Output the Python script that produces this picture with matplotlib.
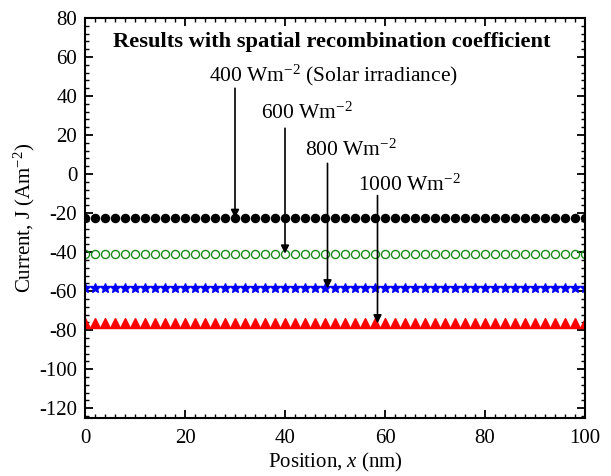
import matplotlib
matplotlib.use("Agg")
import matplotlib.pyplot as plt
from matplotlib.ticker import MultipleLocator

plt.rcParams['font.family'] = ['Liberation Serif', 'DejaVu Serif']
plt.rcParams['mathtext.fontset'] = 'custom'
plt.rcParams['mathtext.rm'] = 'Liberation Serif'
plt.rcParams['mathtext.it'] = 'Liberation Serif:italic'
plt.rcParams['mathtext.bf'] = 'Liberation Serif:bold'
plt.rcParams['axes.unicode_minus'] = False

# Data
position = [0, 2, 4, 6, 8, 10, 12, 14, 16, 18, 20, 22, 24, 26, 28, 30, 32, 34, 36, 38,
            40, 42, 44, 46, 48, 50, 52, 54, 56, 58, 60, 62, 64, 66, 68, 70, 72, 74, 76, 78,
            80, 82, 84, 86, 88, 90, 92, 94, 96, 98, 100]
n = len(position)
J_400 = [-22.5] * n
J_600 = [-40.8] * n
J_800 = [-58.6] * n
J_1000 = [-76.5] * n
labels = ['400 Wm$^{-2}$ (Solar irradiance)', '600 Wm$^{-2}$', '800 Wm$^{-2}$', '1000 Wm$^{-2}$']
arrow_x = [30, 40, 48.5, 58.5]
arrow_from = [44, 23.5, 5.5, -11]
text_xy = [(24.8, 50.8), (35.2, 31.3), (44.0, 12.3), (54.6, -5.6)]

fig = plt.figure(figsize=(6.11, 4.76), dpi=100)
ax = fig.add_axes([85/611, 58/476, 500/611, 400/476])

ax.plot(position, J_400, linestyle='none', marker='o', color='black', markersize=5.8)
ax.plot(position, J_600, linestyle='none', marker='o', markerfacecolor='none',
        markeredgecolor='#1a8c1a', markeredgewidth=1.0, markersize=5.8)
ax.plot(position, J_800, linestyle='none', marker='*', color='blue', markersize=7.5)
ax.plot(position, J_1000, linestyle='none', marker='^', color='red', markersize=6.5)

series_y = [J_400[0], J_600[0], J_800[0], J_1000[0]]
for lab, ax_x, y0, y1, (tx, ty) in zip(labels, arrow_x, arrow_from, series_y, text_xy):
    ax.text(tx, ty, lab, fontsize=15.5, ha='left', va='center')
    ax.annotate('', xy=(ax_x, y1), xytext=(ax_x, y0),
                arrowprops=dict(arrowstyle='-|>', color='black', lw=1.2,
                                mutation_scale=12, shrinkA=0, shrinkB=0))

ax.text(49.4, 67.7, 'Results with spatial recombination coefficient',
        fontsize=16.2, fontweight='bold', ha='center', va='center')

ax.set_xlim(0, 100)
ax.set_ylim(-125, 80)
ax.xaxis.set_major_locator(MultipleLocator(20))
ax.xaxis.set_minor_locator(MultipleLocator(2))
ax.yaxis.set_minor_locator(MultipleLocator(4))
ax.set_yticks([80, 60, 40, 20, 0, -20, -40, -60, -80, -100, -120])

ax.tick_params(which='both', direction='in', top=True, right=True, labelsize=15)
ax.tick_params(axis='x', which='major', pad=8)
ax.tick_params(axis='y', which='major', pad=5.5)
ax.tick_params(which='major', length=6, width=1.3)
ax.tick_params(which='minor', length=3, width=1.0)
for s in ax.spines.values():
    s.set_linewidth(1.5)

ax.set_xlabel('Position, $x$ (nm)', fontsize=15, labelpad=2)
ax.set_ylabel('Current, J (Am$^{-2}$)', fontsize=15, labelpad=2)

fig.savefig('out.png', dpi=100)
